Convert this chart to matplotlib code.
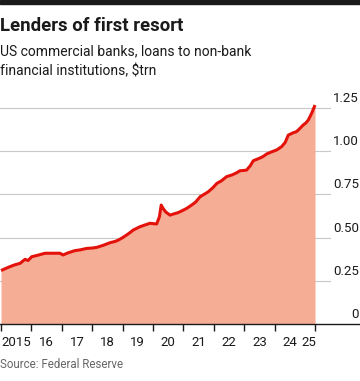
import numpy as np
import matplotlib.pyplot as plt
from matplotlib.patches import Rectangle

# Daten (Jahr als Dezimalzahl, Kredite in $trn)
years = [2015.00, 2015.15, 2015.30, 2015.45, 2015.63, 2015.79, 2015.89, 2016.01,
         2016.20, 2016.45, 2016.70, 2016.94, 2017.04, 2017.20, 2017.43, 2017.62,
         2017.82, 2018.00, 2018.15, 2018.35, 2018.59, 2018.75, 2018.86, 2019.00,
         2019.13, 2019.25, 2019.35, 2019.57, 2019.75, 2019.90, 2020.05, 2020.12,
         2020.21, 2020.27, 2020.33, 2020.42, 2020.56, 2020.70, 2020.82, 2020.94,
         2021.10, 2021.27, 2021.40, 2021.55, 2021.70, 2021.82, 2021.98, 2022.10,
         2022.26, 2022.42, 2022.60, 2022.75, 2022.86, 2023.00, 2023.08, 2023.20,
         2023.30, 2023.50, 2023.62, 2023.74, 2023.90, 2024.07, 2024.23, 2024.35,
         2024.45, 2024.55, 2024.62, 2024.70, 2024.78, 2024.94, 2025.03, 2025.11,
         2025.22, 2025.33]
loans = [0.310, 0.322, 0.333, 0.343, 0.352, 0.375, 0.368, 0.390,
         0.398, 0.410, 0.410, 0.410, 0.400, 0.412, 0.425, 0.430,
         0.438, 0.440, 0.444, 0.455, 0.471, 0.478, 0.486, 0.500,
         0.515, 0.530, 0.544, 0.563, 0.574, 0.583, 0.580, 0.579,
         0.620, 0.688, 0.669, 0.648, 0.630, 0.638, 0.644, 0.654,
         0.668, 0.688, 0.705, 0.736, 0.752, 0.765, 0.790, 0.813,
         0.829, 0.852, 0.862, 0.874, 0.886, 0.888, 0.890, 0.915,
         0.944, 0.958, 0.968, 0.983, 0.995, 1.006, 1.025, 1.050,
         1.092, 1.100, 1.106, 1.110, 1.121, 1.150, 1.162, 1.179,
         1.218, 1.265]

year_ticks = [2015, 2016, 2017, 2018, 2019, 2020, 2021, 2022, 2023, 2024, 2025.33]
year_labels = ['2015', '16', '17', '18', '19', '20', '21', '22', '23', '24', '25']
label_pos = [2015.5, 2016.5, 2017.5, 2018.5, 2019.5, 2020.5, 2021.5, 2022.5,
             2023.5, 2024.5, 2025.13]
y_ticks = [0, 0.25, 0.5, 0.75, 1.0, 1.25]
y_labels = ['0', '0.25', '0.50', '0.75', '1.00', '1.25']

plt.rcParams['font.family'] = ['Roboto', 'DejaVu Sans']

W, H = 360, 381
fig = plt.figure(figsize=(W / 100, H / 100), dpi=100)

# Skala: 30.4 px pro Jahr, 2015 bei x=1
px_year = 30.4
x0 = 2015 - 1 / px_year
x1 = x0 + W / px_year
base_px = 324.3
px_unit = 173.3
ymax = 1.3
ax = fig.add_axes([0, (H - base_px) / H, 1, ymax * px_unit / H])
ax.set_xlim(x0, x1)
ax.set_ylim(0, ymax)
for s in ['top', 'right', 'left']:
    ax.spines[s].set_visible(False)
ax.spines['bottom'].set_color('#1a1a1a')
ax.spines['bottom'].set_linewidth(1.0)

grid_end = x0 + 330 / px_year
for yt in y_ticks[1:]:
    ax.plot([x0, grid_end], [yt, yt], color='#c8c8c8', lw=0.8, zorder=1)

ax.fill_between(years, loans, 0, color='#f6ad96', lw=0, zorder=2)
ax.plot(years, loans, color='#e3120b', lw=2.2, zorder=3, solid_capstyle='butt')

for yt, lab in zip(y_ticks, y_labels):
    ax.text(1 - 1 / W, yt + 3 / px_unit, lab, transform=ax.get_yaxis_transform(),
            ha='right', va='bottom', fontsize=9.5, color='#1a1a1a')

ax.set_yticks([])
ax.set_xticks(year_ticks)
ax.set_xticklabels([])
ax.tick_params(axis='x', direction='out', length=5, width=1, color='#1a1a1a')

# Jahresbeschriftungen zwischen den Ticks
for m, lab in zip(label_pos, year_labels):
    fig.text((m - x0) / (x1 - x0), 1 - 342.5 / H, lab, ha='center', va='center',
             fontsize=9.5, color='#1a1a1a')

fig.patches.append(Rectangle((0, 1 - 4 / H), 1, 4 / H, transform=fig.transFigure,
                             color='#1a1a1a', zorder=10))

fig.text(0, 1 - 26 / H, 'Lenders of first resort', fontsize=13.4, fontweight='bold',
         color='#1a1a1a', ha='left', va='center')
fig.text(0, 1 - 51 / H, 'US commercial banks, loans to non-bank', fontsize=10,
         color='#1a1a1a', ha='left', va='center')
fig.text(0, 1 - 71 / H, 'financial institutions, $trn', fontsize=10,
         color='#1a1a1a', ha='left', va='center')
fig.text(0, 1 - 365 / H, 'Source: Federal Reserve', fontsize=8.3,
         color='#666666', ha='left', va='center')

fig.savefig('out.png', dpi=100)
